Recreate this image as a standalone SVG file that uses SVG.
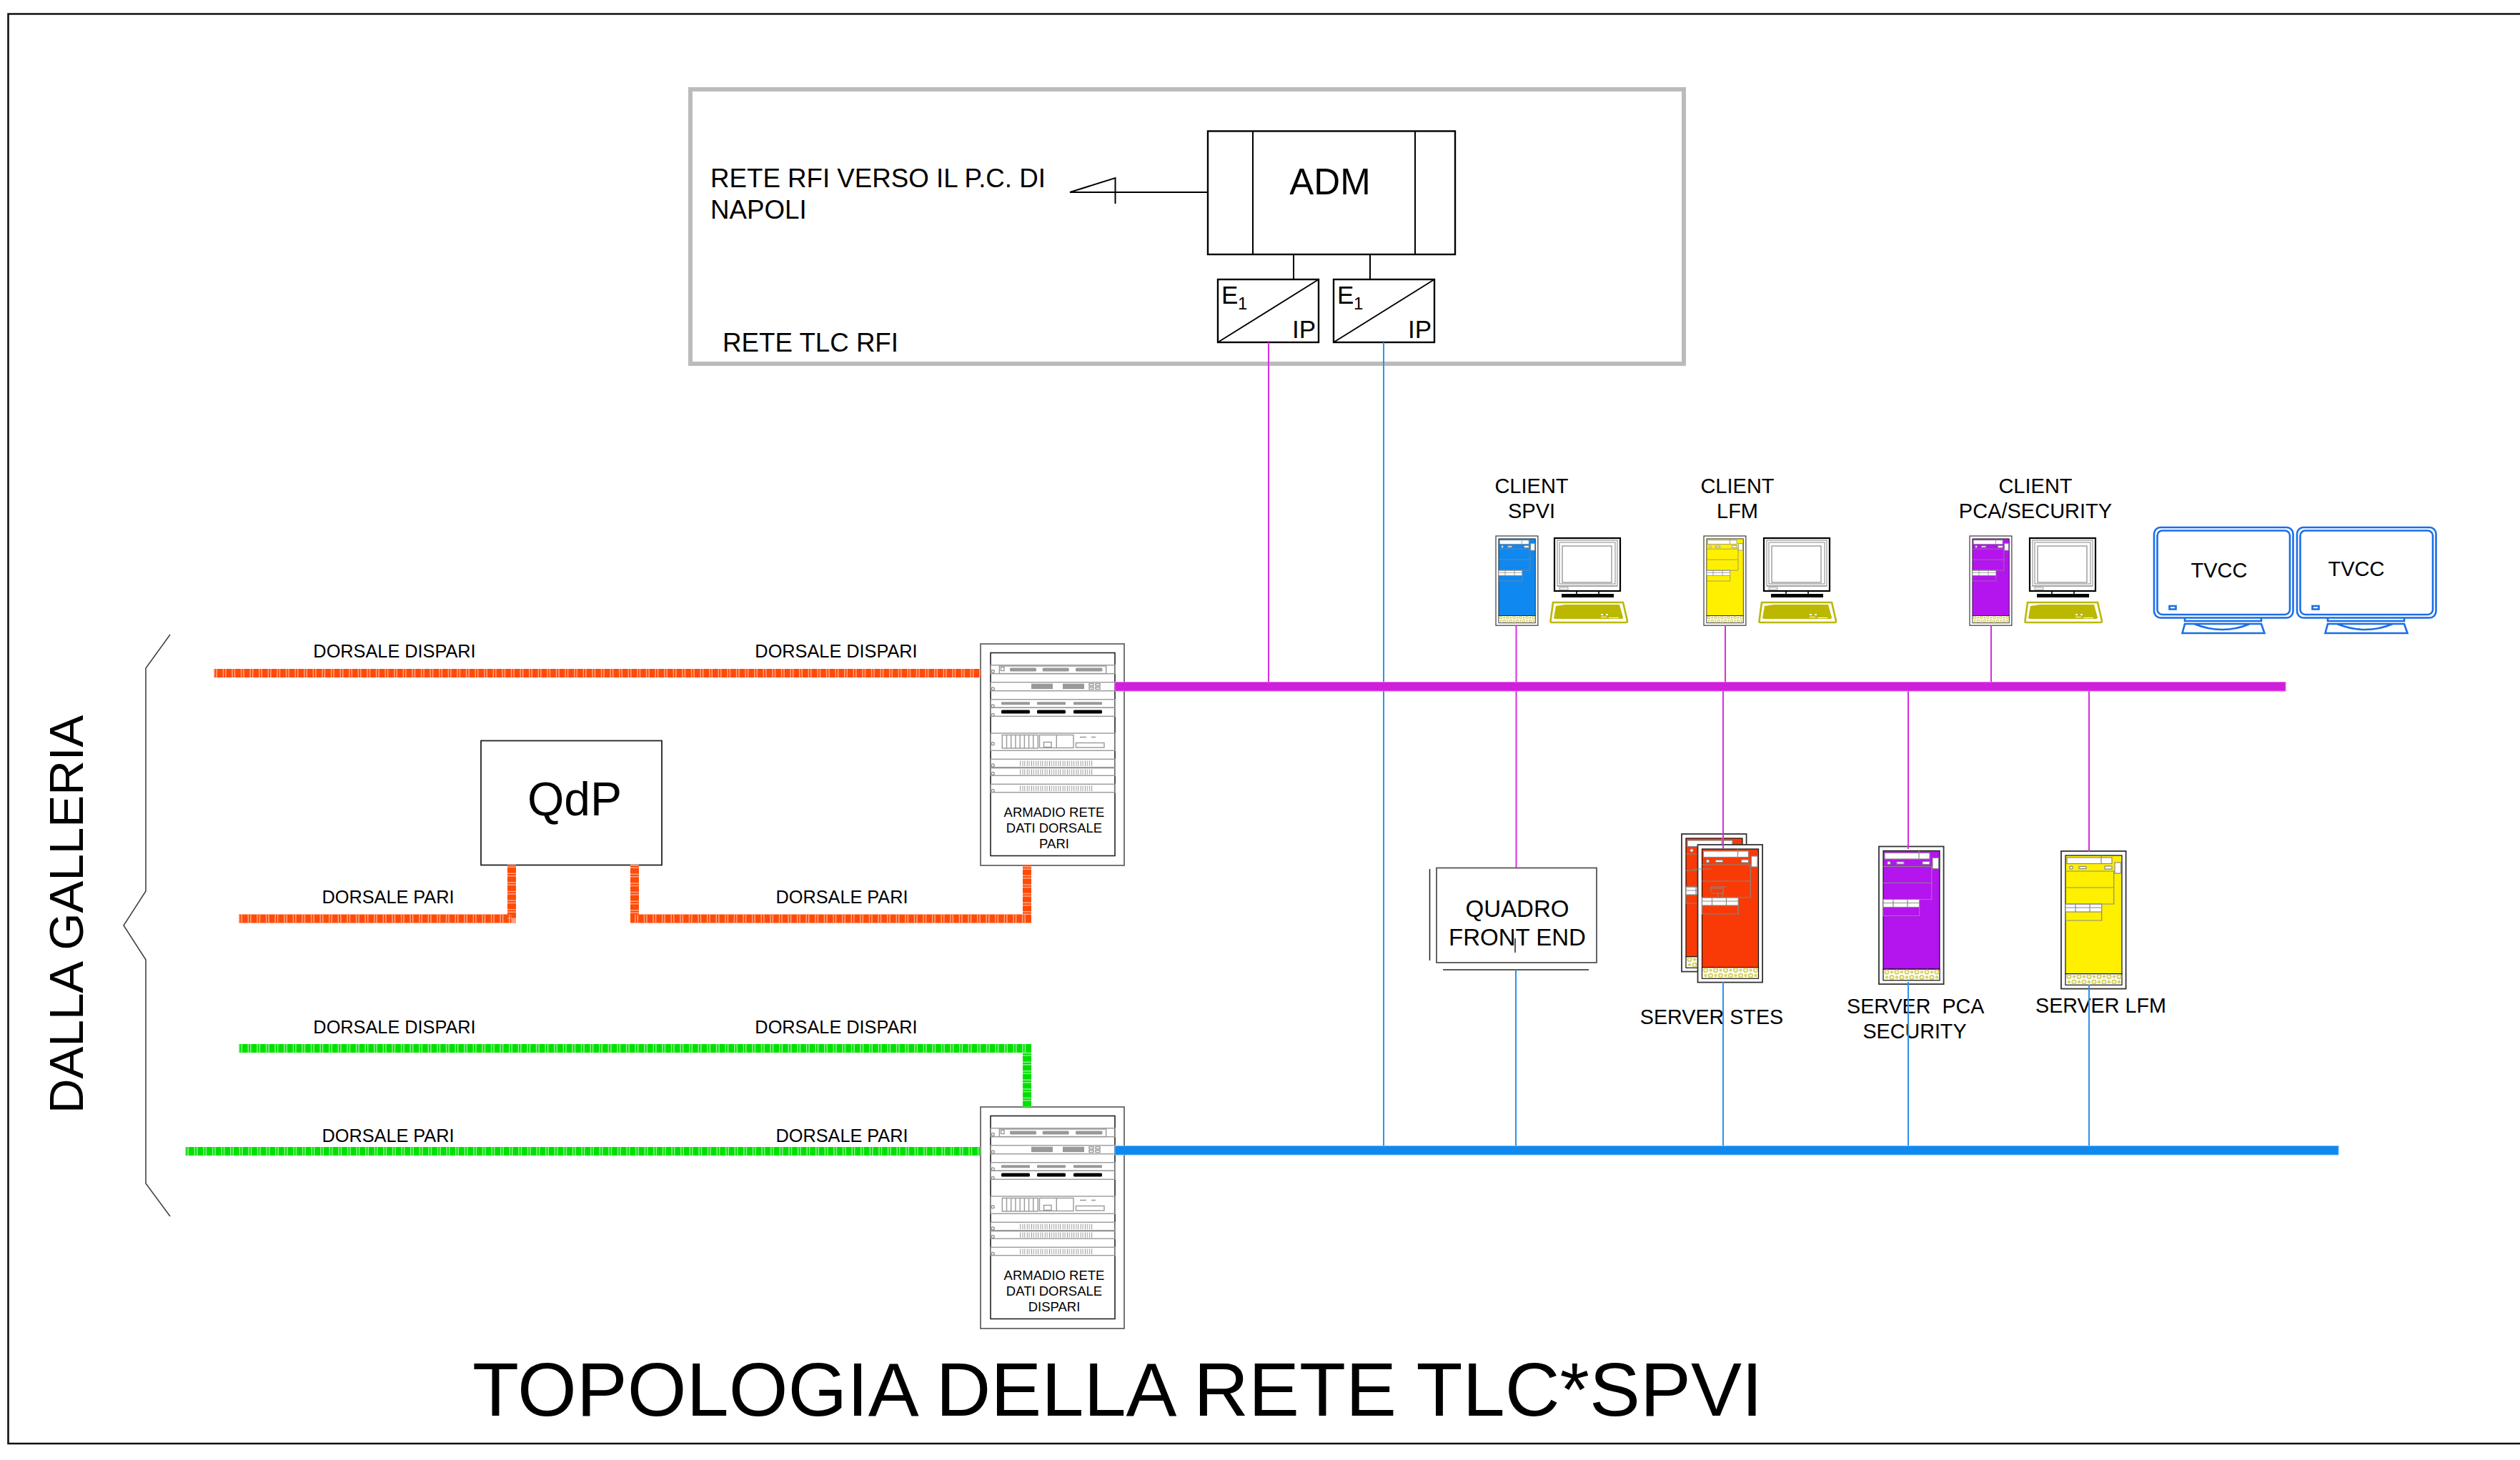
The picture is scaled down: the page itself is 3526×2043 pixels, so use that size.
<svg xmlns="http://www.w3.org/2000/svg" xmlns:xlink="http://www.w3.org/1999/xlink" width="3526" height="2043" viewBox="0 0 3526 2043">
<style>
text{font-family:"Liberation Sans",Arial,sans-serif;fill:#000}
.c{text-anchor:middle}
.ln{fill:none;stroke:#000;stroke-width:2}
.thin{fill:none;stroke:#222;stroke-width:1.5}
.gr{fill:none;stroke:#999;stroke-width:1.4}
.gd{fill:#999;stroke:none}
.d25{font-size:25.300px}.s29{font-size:29px}.sv{font-size:28.700px}.s37{font-size:36.700px}.s33{font-size:33px}
.mag{stroke:#d62ee0;stroke-width:2;fill:none}
.blu{stroke:#2e92ea;stroke-width:2;fill:none}
.or{stroke:#ff4a08;stroke-width:12;fill:none}
.ov{stroke:#ffa584;stroke-width:12;fill:none;stroke-dasharray:1.5 2 1.5 7.6}
.grn{stroke:#00e000;stroke-width:12;fill:none}
.gv{stroke:#90f090;stroke-width:12;fill:none;stroke-dasharray:1.5 2 1.5 7.6}
.tv{fill:none;stroke:#1a6ee8;stroke-width:2.6}
</style>
<defs>
<pattern id="ports" patternUnits="userSpaceOnUse" x="87" y="0" width="6.25" height="300"><rect x=".6" y="0" width="3.4" height="300" fill="none" stroke="#999" stroke-width="1"/></pattern>
<g id="cabinet">
<rect x="32" y="21" width="201" height="310" fill="#fff" stroke="#666" stroke-width="1.8"/>
<rect x="46" y="33.5" width="174" height="284" fill="#fff" stroke="#222" stroke-width="1.6"/>
<g class="gr">
<rect x="46.3" y="50.7" width="174" height="12"/><rect x="58.3" y="52" width="149.4" height="10.5"/>
<rect x="46.3" y="74.7" width="174" height="12"/>
<rect x="46.3" y="98.7" width="174" height="11.6"/><rect x="46.3" y="110.3" width="174" height="12"/>
<rect x="46.3" y="146" width="174" height="24.3"/>
<rect x="46.3" y="182.3" width="174" height="11.4"/><rect x="46.3" y="194.7" width="174" height="10.6"/><rect x="46.3" y="217.3" width="174" height="11.4"/>
<circle cx="49.3" cy="59.5" r="2"/><circle cx="49.3" cy="84" r="2"/><circle cx="49.3" cy="108" r="2"/><circle cx="49.3" cy="120.5" r="2"/><circle cx="49.3" cy="160.7" r="2"/><circle cx="49.3" cy="191" r="2"/><circle cx="49.3" cy="202.5" r="2"/><circle cx="49.3" cy="226.5" r="2"/>
<rect x="60.5" y="53.5" width="4.5" height="5"/>
<rect x="184" y="76.7" width="6" height="3"/><rect x="193" y="76.7" width="6" height="3"/><rect x="184" y="81.5" width="6" height="3"/><rect x="193" y="81.5" width="6" height="3"/>
<rect x="62.3" y="148.5" width="50" height="18.5"/><path d="M68.5 148.5v18.5M74.7 148.5v18.5M81 148.5v18.5M87.2 148.5v18.5M93.4 148.5v18.5M99.6 148.5v18.5M105.8 148.5v18.5"/>
<rect x="114.5" y="148.5" width="47.5" height="18"/><path d="M138.3 148.5v18"/><rect x="120.5" y="158.5" width="10.5" height="7"/>
<rect x="165.5" y="159.5" width="39.5" height="6.5"/><path d="M171 151.5h9M187 151.5h6"/>
</g>
<g class="gd">
<rect x="73" y="54.5" width="37" height="5" rx="1.5"/><rect x="118.7" y="54.5" width="37" height="5" rx="1.5"/><rect x="165" y="54.5" width="37.5" height="5" rx="1.5"/>
<rect x="103" y="76.7" width="30" height="7.5"/><rect x="147" y="76.7" width="30" height="7.5"/>
<rect x="61" y="102.3" width="40" height="4" rx="1"/><rect x="111" y="102.3" width="40" height="4" rx="1"/><rect x="162" y="102.3" width="40" height="4" rx="1"/>
</g>
<rect x="61" y="113.5" width="40" height="5" rx="1.5"/><rect x="111" y="113.5" width="40" height="5" rx="1.5"/><rect x="162" y="113.5" width="40" height="5" rx="1.5"/>
<rect x="87" y="184.5" width="103" height="7.5" fill="url(#ports)"/><rect x="87" y="196.5" width="103" height="7.5" fill="url(#ports)"/><rect x="87" y="219.5" width="103" height="7.5" fill="url(#ports)"/>
</g>
<g id="tower">
<rect x="0" y="0" width="90.6" height="192.6" fill="#fff" stroke="#333" stroke-width="1.8"/>
<rect x="6" y="6" width="79" height="165.7" fill="currentColor" stroke="#111" stroke-width="1.2"/>
<rect x="6" y="171.7" width="79" height="15.6" fill="#fff" stroke="#111" stroke-width="1.2"/>
<g fill="none" stroke="#d8d264" stroke-width="2">
<circle cx="11" cy="175.6" r="2.6"/><circle cx="25" cy="175.6" r="2.6"/><circle cx="39" cy="175.6" r="2.6"/><circle cx="53" cy="175.6" r="2.6"/><circle cx="67" cy="175.6" r="2.6"/><circle cx="81" cy="175.6" r="2.6"/>
<circle cx="18" cy="183" r="2.6"/><circle cx="32" cy="183" r="2.6"/><circle cx="46" cy="183" r="2.6"/><circle cx="60" cy="183" r="2.6"/><circle cx="74" cy="183" r="2.6"/>
<circle cx="18" cy="175.6" r="1.2"/><circle cx="32" cy="175.6" r="1.2"/><circle cx="46" cy="175.6" r="1.2"/><circle cx="60" cy="175.6" r="1.2"/><circle cx="74" cy="175.6" r="1.2"/>
<circle cx="11" cy="183" r="1.2"/><circle cx="25" cy="183" r="1.2"/><circle cx="39" cy="183" r="1.2"/><circle cx="53" cy="183" r="1.2"/><circle cx="67" cy="183" r="1.2"/><circle cx="81" cy="183" r="1.2"/>
</g>
<g fill="#fff" stroke="#888" stroke-width="1.2">
<rect x="8" y="9" width="63" height="8.5"/>
<rect x="75" y="16" width="8.5" height="15"/>
<circle cx="14" cy="23" r="2.2"/><rect x="25" y="21.5" width="10" height="3"/><rect x="61" y="21" width="10" height="4"/>
<rect x="6" y="74" width="50.7" height="11"/>
<path fill="none" d="M6 28H73.7V74H6M6 51H73.7M6 85V97H56.7V85M56 6V17M6 79H56.7M20 74V85M40 74V85"/>
</g>
</g>
<g id="monitor">
<rect x="0" y="0" width="92" height="74" fill="#fff" stroke="#000" stroke-width="2.2"/>
<rect x="4" y="3" width="84" height="64" fill="none" stroke="#999" stroke-width="1.2"/>
<rect x="7" y="6" width="78" height="58" fill="none" stroke="#999" stroke-width="1.2"/>
<rect x="11" y="11" width="69" height="51" fill="#fff" stroke="#888" stroke-width="1.2"/>
<path d="M4 67H88" stroke="#888" stroke-width="1" fill="none"/><rect x="7" y="69" width="12" height="3" fill="#fff" stroke="#888" stroke-width=".8"/>
<path d="M31 74v6h31v-6" fill="none" stroke="#000" stroke-width="1.6"/>
<rect x="10" y="78" width="73" height="5" fill="#000"/>
</g>
<g id="keyboard">
<path d="M1.5 27L5 1H103L109 27Q109 29 107 29H3Q1 29 1.5 27Z" fill="#fff" stroke="#bcb800" stroke-width="2.6"/>
<path d="M6 23L9 6L22 4H98L103 22L102 24H8Z" fill="#bcb800"/>
<path d="M72 17h3v2h-3zM79 17h3v2h-3zM72 21h8v1h-8zM83 22h14v1H83z" fill="#fff"/>
</g>
<g id="tvset" class="tv">
<rect x="1" y="1" width="194.5" height="126.5" rx="9"/>
<rect x="5.5" y="5.5" width="185.5" height="117.5" rx="7"/>
<rect x="22.5" y="111" width="9" height="4.5"/>
<path d="M44 127.5V132H151V127.5M44 136H151L155.500 149H40.500ZM57 136Q97 152 135 136"/>
</g>
</defs>
<rect width="3526" height="2043" fill="#fff"/>
<path id="frame" d="M3526 19.500H11.500V2020H3526" fill="none" stroke="#111" stroke-width="2.6"/>

<g id="rete-tlc-rfi">
<rect x="966" y="125" width="1390" height="384" fill="none" stroke="#bbb" stroke-width="6"/>
<text x="994" y="262" class="s37">RETE RFI VERSO IL P.C. DI</text>
<text x="994" y="306" class="s37">NAPOLI</text>
<text x="1011" y="492" class="s37">RETE TLC RFI</text>
</g>
<g id="adm">
<rect x="1690" y="183.500" width="346" height="172.500" fill="#fff" stroke="#000" stroke-width="2.400"/>
<path class="ln" d="M1753 183V356M1980 183V356"/>
<text x="1861" y="272" class="c" font-size="51">ADM</text>
<path class="ln" d="M1690 269H1497L1560.500 249V285" stroke-width="2.600"/>
</g>
<g id="e1ip-1">
<rect x="1704" y="391" width="141" height="88" fill="#fff" stroke="#000" stroke-width="2.400"/>
<path class="ln" d="M1704 479L1845 391"/>
<text x="1709" y="425" font-size="35">E</text><text x="1732" y="433" font-size="24">1</text>
<text x="1808" y="473" font-size="35">IP</text>
</g>
<g id="e1ip-2">
<rect x="1866" y="391" width="141" height="88" fill="#fff" stroke="#000" stroke-width="2.400"/>
<path class="ln" d="M1866 479L2007 391"/>
<text x="1871" y="425" font-size="35">E</text><text x="1894" y="433" font-size="24">1</text>
<text x="1970" y="473" font-size="35">IP</text>
</g>

<g id="qdp">
<rect x="673" y="1036.500" width="253" height="174" fill="#fff" stroke="#222" stroke-width="1.800"/>
<text x="804" y="1141" class="c" font-size="66">QdP</text>
</g>
<g id="armadio-pari">
<use href="#cabinet" x="1340" y="880"/>
<text x="1475" y="1143" class="c" font-size="18.500">ARMADIO RETE</text>
<text x="1475" y="1165" class="c" font-size="18.500">DATI DORSALE</text>
<text x="1475" y="1187" class="c" font-size="18.500">PARI</text>
</g>
<g id="armadio-dispari">
<use href="#cabinet" x="1340" y="1528"/>
<text x="1475" y="1791" class="c" font-size="18.500">ARMADIO RETE</text>
<text x="1475" y="1813" class="c" font-size="18.500">DATI DORSALE</text>
<text x="1475" y="1835" class="c" font-size="18.500">DISPARI</text>
</g>

<g id="client-spvi">
<use href="#tower" transform="translate(2093 750) scale(.65)" color="#0f88f0"/>
<use href="#monitor" x="2175" y="753"/><use href="#keyboard" x="2168" y="842"/>
<text x="2143" y="690" class="c s29">CLIENT</text><text x="2143" y="725" class="c s29">SPVI</text>
</g>
<g id="client-lfm">
<use href="#tower" transform="translate(2384 750) scale(.65)" color="#fff000"/>
<use href="#monitor" x="2468" y="753"/><use href="#keyboard" x="2460" y="842"/>
<text x="2431" y="690" class="c s29">CLIENT</text><text x="2431" y="725" class="c s29">LFM</text>
</g>
<g id="client-pca">
<use href="#tower" transform="translate(2756 750) scale(.65)" color="#b414ee"/>
<use href="#monitor" x="2840" y="753"/><use href="#keyboard" x="2832" y="842"/>
<text x="2848" y="690" class="c s29">CLIENT</text><text x="2848" y="725" class="c s29">PCA/SECURITY</text>
</g>
<g id="tvcc-1">
<use href="#tvset" x="3013" y="737"/>
<text x="3105" y="808" class="c s29">TVCC</text>
</g>
<g id="tvcc-2">
<use href="#tvset" x="3213" y="737"/>
<text x="3297" y="806" class="c s29">TVCC</text>
</g>

<g id="quadro-front-end">
<rect x="2010" y="1214.500" width="224" height="132.500" fill="#fff" stroke="#555" stroke-width="1.800"/>
<path class="thin" d="M2000.500 1216V1344M2019 1357H2223"/>
<text x="2123" y="1283" class="c s33">QUADRO</text><text x="2123" y="1323" class="c s33">FRONT END</text>
<path class="thin" d="M2120 1313V1333"/>
</g>
<g id="server-stes">
<use href="#tower" x="2353" y="1167" color="#f93a06"/>
<use href="#tower" x="2375.500" y="1182" color="#f93a06"/>
<path d="M2394 1247V1241H2416M2394 1243H2411V1250H2394M2410 1250v6h-6v-6M2370 1216h24" fill="none" stroke="#888" stroke-width="1.200"/>
<text x="2395" y="1433" class="c sv">SERVER STES</text>
</g>
<g id="server-pca">
<use href="#tower" x="2629" y="1184.500" color="#b414ee"/>
<text x="2584" y="1418" class="sv" xml:space="preserve">SERVER  PCA</text>
<text x="2679" y="1453" class="c sv">SECURITY</text>
</g>
<g id="server-lfm">
<use href="#tower" x="2884" y="1191" color="#fff000"/>
<text x="2848" y="1417" class="sv">SERVER LFM</text>
</g>

<g id="connectors">
<path class="ln" d="M1810 356V391M1917 356V391"/>
<path class="or" d="M299 942H1372M334 1285.500H716V1210M888 1210V1285.500H1437V1210"/>
<path class="ov" d="M299 942H1372M334 1285.500H716V1210M888 1210V1285.500H1437V1210"/>
<path class="grn" d="M334 1467H1437V1549M259 1611H1372"/>
<path class="gv" d="M334 1467H1437V1549M259 1611H1372"/>
<path class="mag" d="M1775 479V954M2121.500 875V954M2121.500 967V1214M2414 875V954M2411 967V1188M2670 967V1188M2923 967V1192M2786 875V954"/>
<path class="blu" d="M1936 479V1603M2121 1357V1603M2411 1374V1603M2670 1374V1603M2923 1378V1603"/>
<rect x="1560" y="954.500" width="1638" height="12.500" fill="#cf1fdc" stroke="#e46ceb" stroke-width="1"/>
<rect x="1560" y="1603.500" width="1712" height="12.500" fill="#0f88f0" stroke="#6ab6f5" stroke-width="1"/>
</g>

<g id="labels">
<text x="552" y="920" class="c d25">DORSALE DISPARI</text>
<text x="1170" y="920" class="c d25">DORSALE DISPARI</text>
<text x="543" y="1264" class="c d25">DORSALE PARI</text>
<text x="1178" y="1264" class="c d25">DORSALE PARI</text>
<text x="552" y="1446" class="c d25">DORSALE DISPARI</text>
<text x="1170" y="1446" class="c d25">DORSALE DISPARI</text>
<text x="543" y="1598" class="c d25">DORSALE PARI</text>
<text x="1178" y="1598" class="c d25">DORSALE PARI</text>
<path d="M238 888L204 935V1247L173 1295L204 1343V1656L238 1702" fill="none" stroke="#444" stroke-width="1.600"/>
<text transform="translate(116 1558) rotate(-90)" font-size="67.300">DALLA GALLERIA</text>
<text x="661" y="1981" font-size="106.400">TOPOLOGIA DELLA RETE TLC*SPVI</text>
</g>
</svg>
